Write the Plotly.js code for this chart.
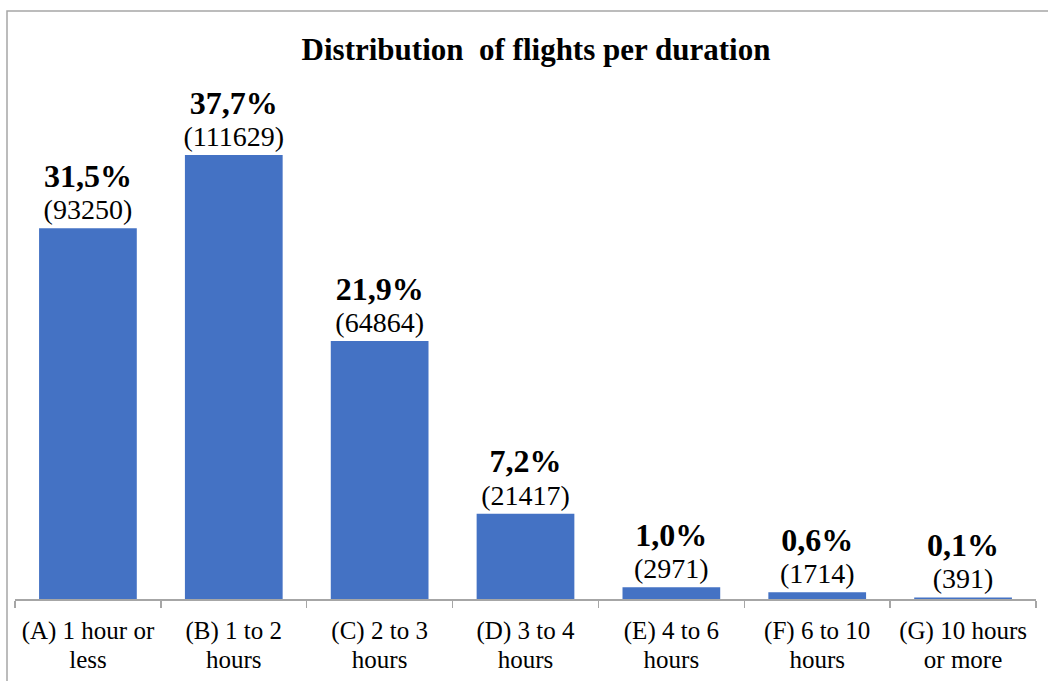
<!DOCTYPE html>
<html>
<head>
<meta charset="utf-8">
<script src="https://cdn.plot.ly/plotly-3.0.1.min.js"></script>
<style>
  html, body { margin: 0; padding: 0; background: #ffffff; }
  #chart { width: 1048px; height: 681px; }
</style>
</head>
<body>
<div id="chart"></div>
<script>
// ---- data ----
const categories = [
  "(A) 1 hour or<br>less",
  "(B) 1 to 2<br>hours",
  "(C) 2 to 3<br>hours",
  "(D) 3 to 4<br>hours",
  "(E) 4 to 6<br>hours",
  "(F) 6 to 10<br>hours",
  "(G) 10 hours<br>or more"
];
const flightCounts = [93250, 111629, 64864, 21417, 2971, 1714, 391];
const percentLabels = ["31,5%", "37,7%", "21,9%", "7,2%", "1,0%", "0,6%", "0,1%"];
const chartTitle = "Distribution\u00A0 of flights per duration";

// ---- styling ----
const FONT = "Liberation Serif, Times New Roman, serif";
const BAR_COLOR = "#4472C4";
const GRAY = "#a6a6a6";

const W = 1048, H = 681;
const margin = { l: 15, r: 12, t: 80, b: 82 };

const barText = percentLabels.map((p, i) =>
  "<span style='font-size:32px'><b>" + p + "</b></span><br>" +
  "<span style='font-size:28px'>(" + flightCounts[i] + ")</span>"
);

const tickText = categories.map(c =>
  c.split("<br>").map(line => "<span style='font-size:25px'>" + line + "</span>").join("<br>")
);

const yMax = Math.max(...flightCounts) * 1.169;

const trace = {
  type: "bar",
  x: categories,
  y: flightCounts,
  marker: { color: BAR_COLOR, line: { width: 0 } },
  text: barText,
  textposition: "outside",
  textfont: { family: FONT, size: 25, color: "#000000" },
  constraintext: "none",
  cliponaxis: false,
  hoverinfo: "none"
};

const plotW = W - margin.l - margin.r;
const plotH = H - margin.t - margin.b;
const px = v => (v - margin.l) / plotW;
const py = v => (H - margin.b - v) / plotH;

const layout = {
  width: W,
  height: H,
  margin: margin,
  paper_bgcolor: "#ffffff",
  plot_bgcolor: "#ffffff",
  showlegend: false,
  bargap: 0.33,
  font: { family: FONT, color: "#000000" },
  title: {
    text: "<b>" + chartTitle + "</b>",
    font: { family: FONT, size: 31, color: "#000000" },
    xref: "container",
    yref: "container",
    x: 536 / W,
    y: 1 - 49 / H,
    xanchor: "center",
    yanchor: "middle"
  },
  xaxis: {
    type: "category",
    tickvals: categories,
    ticktext: tickText,
    tickfont: { family: FONT, size: 21.6, color: "#000000" },
    ticklabelstandoff: 13,
    showline: true,
    linecolor: GRAY,
    linewidth: 1.5,
    ticks: "outside",
    tickson: "boundaries",
    ticklen: 7,
    tickcolor: GRAY,
    tickwidth: 1.5,
    showgrid: false,
    zeroline: false,
    fixedrange: true
  },
  yaxis: {
    range: [0, yMax],
    visible: false,
    showgrid: false,
    zeroline: false,
    fixedrange: true
  },
  shapes: [{
    type: "rect",
    xref: "paper",
    yref: "paper",
    x0: px(7),
    x1: px(W + 20),
    y0: py(H + 20),
    y1: py(11),
    line: { color: GRAY, width: 1.5 },
    fillcolor: "rgba(0,0,0,0)",
    layer: "above"
  }]
};

Plotly.newPlot("chart", [trace], layout, { staticPlot: true, displayModeBar: false });
</script>
</body>
</html>
